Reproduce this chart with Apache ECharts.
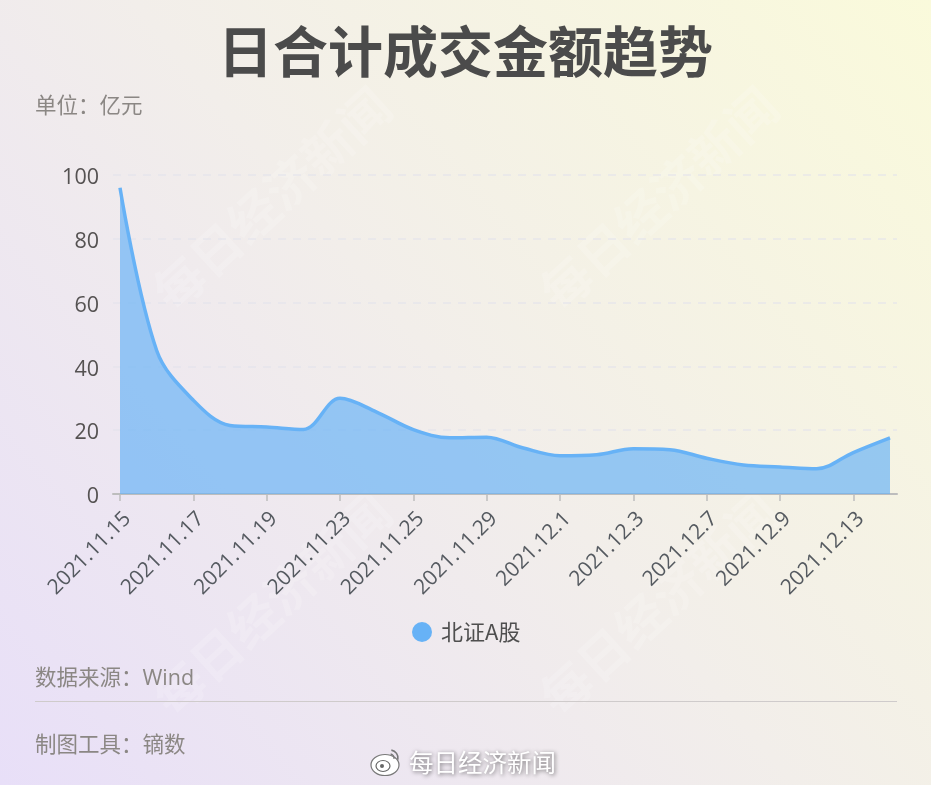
<!DOCTYPE html>
<html><head><meta charset="utf-8">
<style>html,body{margin:0;padding:0;width:931px;height:785px;overflow:hidden}#c{width:931px;height:785px}</style>
<script src="https://cdn.jsdelivr.net/npm/echarts@6/dist/echarts.min.js"></script>
</head><body><div id="c"></div>
<script>
const categories=['2021.11.15','2021.11.16','2021.11.17','2021.11.18','2021.11.19','2021.11.22','2021.11.23','2021.11.24','2021.11.25','2021.11.26','2021.11.29','2021.11.30','2021.12.1','2021.12.2','2021.12.3','2021.12.6','2021.12.7','2021.12.8','2021.12.9','2021.12.10','2021.12.13','2021.12.14'];
const values=[96,45,29.4,21.5,21,20.2,30,25.7,20.2,17.6,17.8,14.4,12,12.3,14.2,13.9,11.2,9.1,8.5,7.9,13,17.6];
const seriesName='北证A股';
const titleText='日合计成交金额趋势';
const unitText='单位\uFF1A亿元';
const sourceText='数据来源\uFF1AWind';
const toolText='制图工具\uFF1A镝数';
const markText='每日经济新闻';
const font='"Open Sans","Noto Sans CJK SC",sans-serif';
const cjk='"Noto Sans CJK SC",sans-serif';
const chart=echarts.init(document.getElementById('c'));
const wm=(x,y)=>({type:'text',x,y,rotation:0.74,silent:true,z:0,style:{text:markText,fontSize:50,fontFamily:cjk,fontWeight:700,fill:'rgba(255,255,255,0.17)',textAlign:'left',textVerticalAlign:'middle'}});
const label=(x,y,text)=>({type:'text',x,y,style:{text,fontSize:21.5,fontFamily:font,fill:'#8b8784',textAlign:'left',textVerticalAlign:'middle'}});
chart.setOption({
 animation:false,
 backgroundColor:new echarts.graphic.LinearGradient(0,1,1,0,[{offset:0,color:'#e8dff8'},{offset:0.5,color:'#f2eeea'},{offset:1,color:'#fafadb'}]),
 title:{text:titleText,left:'center',top:19,textStyle:{fontSize:55,fontWeight:'bold',color:'#4b4b4b',fontFamily:cjk}},
 legend:{data:[{name:seriesName,icon:'circle'}],left:407,top:616,itemWidth:20,itemHeight:20,itemGap:10,textStyle:{fontSize:22,color:'#4f4f4f',fontFamily:cjk,padding:[0,0,0,4]}},
 grid:[{left:120,right:41,top:175,bottom:291},{left:113,right:34,top:175,bottom:291}],
 xAxis:[
  {type:'category',gridIndex:0,data:categories,boundaryGap:false,
   axisLine:{show:false},
   axisTick:{show:true,alignWithLabel:true,interval:1,length:7,lineStyle:{color:'#bdbdbd',width:1.5}},
   axisLabel:{interval:1,rotate:45,margin:14,fontSize:21,color:'#555a60',fontFamily:font,verticalAlign:'top'}},
  {type:'value',gridIndex:1,min:0,max:1,axisLine:{show:true,lineStyle:{color:'#bdbdbd',width:2}},axisTick:{show:false},axisLabel:{show:false},splitLine:{show:false}}
 ],
 yAxis:[
  {type:'value',gridIndex:0,min:0,max:100,interval:20,axisLine:{show:false},axisTick:{show:false},splitLine:{show:false},
   axisLabel:{margin:21,fontSize:21.5,color:'#555252',fontFamily:font,verticalAlign:'top',lineHeight:6}},
  {type:'value',gridIndex:1,min:0,max:100,interval:20,axisLine:{show:false},axisTick:{show:false},axisLabel:{show:false},
   splitLine:{show:true,lineStyle:{type:[8,7],color:'rgba(225,225,235,0.75)',width:1.5}}}
 ],
 series:[{name:seriesName,type:'line',xAxisIndex:0,yAxisIndex:0,data:values,smooth:0.35,showSymbol:false,symbol:'none',
  itemStyle:{color:'#67b2f6'},lineStyle:{color:'#67b2f6',width:3.5},areaStyle:{color:'#67b2f6',opacity:0.68},z:3}],
 graphic:[
  wm(161,300),wm(161,705),wm(548,300),wm(548,705),
  label(35,107,unitText),label(35,679,sourceText),label(35,746,toolText),
  {type:'line',shape:{x1:35,y1:701.5,x2:897,y2:701.5},style:{stroke:'#cfcbcb',lineWidth:1}},
  {type:'text',x:409,y:763,style:{text:markText,fontSize:24.5,fontFamily:cjk,fill:'#ffffff',textAlign:'left',textVerticalAlign:'middle',textShadowColor:'rgba(0,0,0,0.55)',textShadowBlur:4,textShadowOffsetX:1,textShadowOffsetY:1}},
  {type:'ellipse',shape:{cx:385,cy:765,rx:14,ry:10.5},style:{fill:'#ffffff',stroke:'#777',lineWidth:1.2}},
  {type:'ellipse',shape:{cx:383,cy:766,rx:7,ry:5.5},style:{fill:'#ffffff',stroke:'#666',lineWidth:1.2}},
  {type:'circle',shape:{cx:382,cy:766,r:2},style:{fill:'#666'}},
  {type:'arc',shape:{cx:390,cy:758,r:8,startAngle:-1.4,endAngle:0.2},style:{stroke:'#777',lineWidth:1.6,fill:null}},
  {type:'arc',shape:{cx:390,cy:758,r:4,startAngle:-1.4,endAngle:0.2},style:{stroke:'#777',lineWidth:1.4,fill:null}}
 ]
});
</script></body></html>
